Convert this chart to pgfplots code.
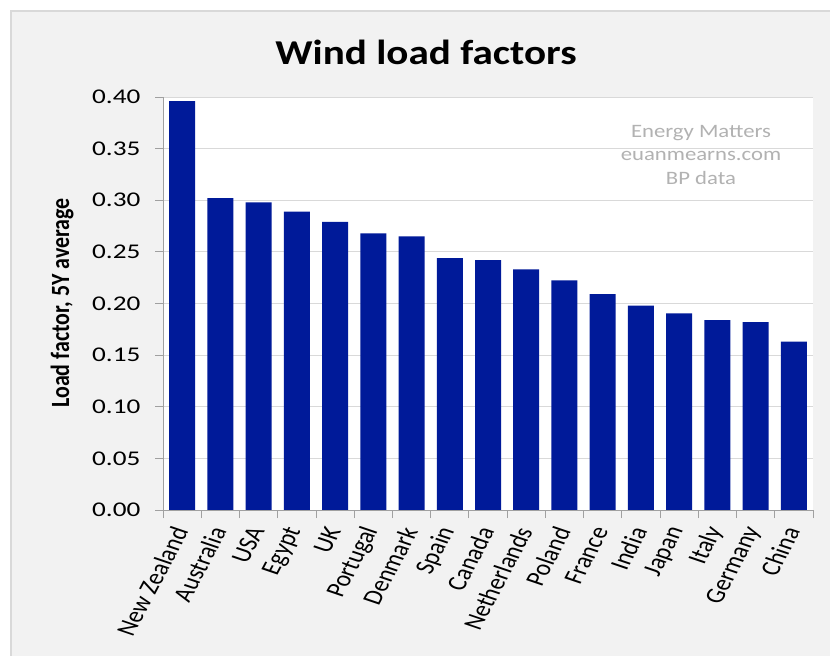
\documentclass[border=0pt]{standalone}
\usepackage{pgfplots}
\pgfplotsset{compat=1.18}
\usepackage{fontspec}
\setmainfont{Carlito}
\definecolor{barblue}{RGB}{0,26,153}
\definecolor{panel}{RGB}{242,242,242}
\definecolor{panelborder}{RGB}{217,217,217}
\definecolor{gridc}{RGB}{217,217,217}
\definecolor{axisc}{RGB}{160,160,160}
\definecolor{wm}{RGB}{178,178,178}
\begin{document}
\begin{tikzpicture}
\useasboundingbox (0,0) rectangle (830bp,656bp);
\fill[white] (0,0) rectangle (830bp,656bp);
\filldraw[fill=panel, draw=panelborder, line width=2bp] (11bp,-5bp) rectangle (840bp,645bp);
\begin{axis}[
  at={(163bp,146bp)}, anchor=south west,
  scale only axis, width=650bp, height=413bp,
  xmin=-0.5, xmax=16.5, ymin=0, ymax=0.40,
  axis background/.style={fill=white},
  axis x line*=bottom, axis y line*=left,
  axis line style={-, draw=axisc, line width=0.8bp},
  xtick pos=left, ytick pos=left,
  ymajorgrids, grid style={draw=gridc, line width=0.8bp},
  ytick={0,0.05,0.1,0.15,0.2,0.25,0.3,0.35,0.4},
  /pgf/number format/assume math mode=true,
  yticklabel style={/pgf/number format/.cd, fixed, fixed zerofill, precision=2, /tikz/.cd, font=\fontsize{21}{21}\selectfont, xscale=1.3},
  yticklabel shift=10bp,
  tick align=outside, major tick length=8bp, minor tick length=8bp,
  tick style={draw=axisc, line width=0.8bp},
  xtick={0,1,2,3,4,5,6,7,8,9,10,11,12,13,14,15,16},
  xticklabels={New Zealand,Australia,USA,Egypt,UK,Portugal,Denmark,Spain,Canada,Netherlands,Poland,France,India,Japan,Italy,Germany,China},
  major x tick style={draw=none},
  minor xtick={-0.5,0.5,1.5,2.5,3.5,4.5,5.5,6.5,7.5,8.5,9.5,10.5,11.5,12.5,13.5,14.5,15.5,16.5},
  minor x tick style={draw=axisc, line width=0.8bp},
  xticklabel style={font=\fontsize{22}{22}\selectfont, xscale=1.25, rotate=67, anchor=east},
  xticklabel shift=7bp,
]
\addplot[ybar, bar width=0.68, bar shift=0pt, fill=barblue, draw=none] coordinates {
(0,0.396) (1,0.302) (2,0.298) (3,0.289) (4,0.279) (5,0.268) (6,0.265) (7,0.244) (8,0.242)
(9,0.233) (10,0.2225) (11,0.209) (12,0.198) (13,0.1905) (14,0.184) (15,0.182) (16,0.163)};
\end{axis}
\node[xscale=1.2, rotate=90] at (62bp,353bp) {\fontsize{22}{22}\selectfont\bfseries Load factor, 5Y average};
\node[xscale=1.18] at (426bp,604bp) {\fontsize{35}{35}\selectfont\bfseries Wind load factors};
\node[xscale=1.2, text=wm] at (701bp,523bp) {\fontsize{19}{19}\selectfont Energy Matters};
\node[xscale=1.2, text=wm] at (701bp,500bp) {\fontsize{19}{19}\selectfont euanmearns.com};
\node[xscale=1.2, text=wm] at (701bp,478bp) {\fontsize{19}{19}\selectfont BP data};
\end{tikzpicture}
\end{document}
